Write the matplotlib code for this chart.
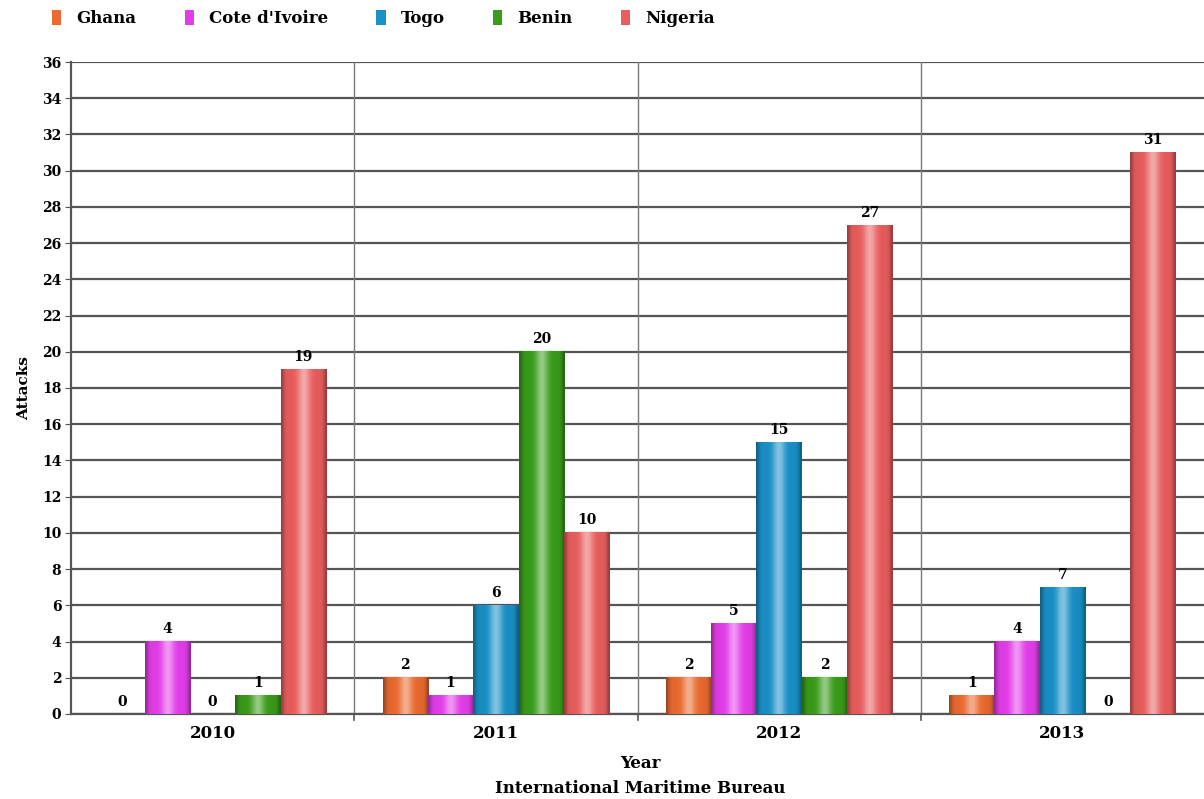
import numpy as np
import matplotlib.pyplot as plt
from matplotlib.colors import to_rgb
from matplotlib.patches import Patch

years = ["2010", "2011", "2012", "2013"]
countries = ["Ghana", "Cote d'Ivoire", "Togo", "Benin", "Nigeria"]
attacks = {
    "Ghana":         [0, 2, 2, 1],
    "Cote d'Ivoire": [4, 1, 5, 4],
    "Togo":          [0, 6, 15, 7],
    "Benin":         [1, 20, 2, 0],
    "Nigeria":       [19, 10, 27, 31],
}
colors = ["#ea6a30", "#e23ee8", "#1a90c6", "#3a9c1a", "#e85e5e"]

plt.rcParams['font.family'] = ['DejaVu Serif']
plt.rcParams['font.weight'] = 'bold'

fig = plt.figure(figsize=(12.04, 7.99), dpi=100)
ax = fig.add_axes([0.059, 0.1064, 0.941, 0.816])

x = np.arange(len(years))
w = 0.16
# cylinder-like shading across each bar
u = np.linspace(0, 1, 80)
shade = (0.97 + 0.38 * np.exp(-((u - 0.5) / 0.14) ** 2)
         - 0.3 * np.exp(-(u / 0.07) ** 2) - 0.32 * np.exp(-((1 - u) / 0.07) ** 2))


def make_grad(c):
    base = np.array(to_rgb(c))
    g = np.empty((1, len(u), 3))
    for k, s in enumerate(shade):
        if s <= 1:
            g[0, k] = base * s
        else:
            g[0, k] = base + (1 - base) * (s - 1) * 1.3
    return np.clip(g, 0, 1)


for i, (name, c) in enumerate(zip(countries, colors)):
    offs = (i - 2) * w
    bars = ax.bar(x + offs, attacks[name], w, color=c, zorder=3)
    grad = make_grad(c)
    for b, v in zip(bars, attacks[name]):
        if v > 0:
            ax.imshow(grad, extent=[b.get_x(), b.get_x() + b.get_width(), 0, v],
                      aspect='auto', zorder=4, interpolation='bilinear')
        ax.text(b.get_x() + b.get_width() / 2, v + 0.3, str(v), ha='center',
                va='bottom', fontsize=10, fontweight='bold', zorder=5)

ax.set_xlim(-0.5, 3.5)
ax.set_ylim(0, 36)
ax.set_yticks(np.arange(0, 37, 2))
ax.set_xticks(x)
ax.set_xticklabels(years, fontsize=12, fontweight='bold')
ax.tick_params(axis='x', length=0, pad=8)
ax.tick_params(axis='y', labelsize=10, length=4, color='#555555', pad=3)
for lbl in ax.get_yticklabels():
    lbl.set_fontweight('bold')
ax.yaxis.grid(True, color='#555555', linewidth=1.6, zorder=0)
for xb in [0.5, 1.5, 2.5]:
    ax.axvline(xb, color='#7a7a7a', linewidth=1.0, zorder=1)
    ax.plot([xb, xb], [0, -0.35], color='#555555', lw=1.2, clip_on=False)
ax.set_axisbelow(True)
for s in ['top', 'right']:
    ax.spines[s].set_visible(False)
for s in ['left', 'bottom']:
    ax.spines[s].set_color('#555555')
    ax.spines[s].set_linewidth(1.6)

ax.set_ylabel("Attacks", fontsize=11, fontweight='bold', labelpad=8)
fig.text(0.5316, 0.039, "Year", ha='center', va='baseline', fontsize=12,
         fontweight='bold')
fig.text(0.5316, 0.008, "International Maritime Bureau", ha='center',
         va='baseline', fontsize=12, fontweight='bold')

handles = [Patch(facecolor=c, label=n) for n, c in zip(countries, colors)]
fig.legend(handles=handles, loc='upper left', bbox_to_anchor=(0.031, 1.006), ncol=5,
           frameon=False, handlelength=0.55, handleheight=1.0, handletextpad=0.9,
           columnspacing=2.9, prop={'size': 12, 'weight': 'bold'})

fig.savefig("out.png", dpi=100)
